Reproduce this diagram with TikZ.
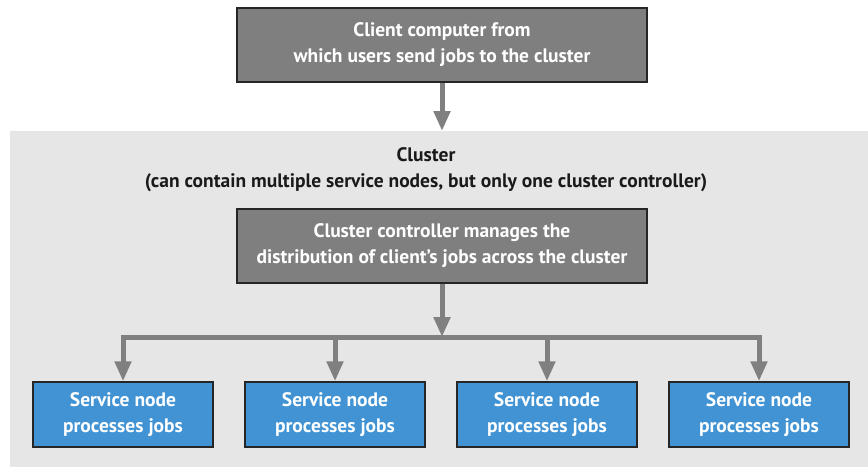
\documentclass[tikz,border=0pt]{standalone}
\usepackage{fontspec}
\setmainfont{PT Sans}
\usetikzlibrary{arrows.meta,positioning}
\definecolor{boxgray}{HTML}{7F7F7F}
\definecolor{nodeblue}{HTML}{4193D3}
\definecolor{clustergray}{HTML}{E6E6E6}
\definecolor{arrowgray}{HTML}{808080}
\definecolor{darktext}{HTML}{1A1A1A}

\begin{document}
\begin{tikzpicture}[x=1pt,y=-1pt,
    graybox/.style={draw=black!85, fill=boxgray, line width=1.5pt, minimum width=410pt, minimum height=74pt,
      align=center, text=white, font=\fontsize{19.5}{26}\selectfont\bfseries},
    servicebox/.style={draw=black!85, fill=nodeblue, line width=1.5pt, minimum width=180pt, minimum height=65pt,
      align=center, text=white, font=\fontsize{19.5}{26}\selectfont\bfseries},
    flow/.style={draw=arrowgray, line width=5pt, -{Triangle[width=16pt,length=20pt]}}]
  \useasboundingbox (0,0) rectangle (868,467);

  % cluster area
  \node[fill=clustergray, minimum width=858pt, minimum height=336pt, anchor=north west, inner sep=0pt] (CLU) at (10,131) {};

  % client computer
  \node[graybox] (CC) at (442,45) {Client computer from\\which users send jobs to the cluster};
  \draw[flow] (CC) -- (CC |- CLU.north);

  % cluster label
  \node[align=center, text=darktext, font=\fontsize{19.5}{26}\selectfont\bfseries] (LBL) at (426,170)
    {Cluster\\(can contain multiple service nodes, but only one cluster controller)};

  % cluster controller
  \node[graybox] (CTL) at (442,246) {Cluster controller manages the\\distribution of client’s jobs across the cluster};

  % service nodes
  \foreach \i/\x in {1/123,2/335,3/547,4/759}
    \node[servicebox] (SN\i) at (\x,414.5) {Service node\\processes jobs};

  % distribution
  \coordinate (BUS) at (442,337);
  \draw[flow] (CTL) -- (BUS);
  \draw[flow] (BUS) -| (SN1);
  \draw[flow] (BUS) -| (SN4);
  \draw[flow] (SN2 |- BUS) -- (SN2);
  \draw[flow] (SN3 |- BUS) -- (SN3);
\end{tikzpicture}
\end{document}
